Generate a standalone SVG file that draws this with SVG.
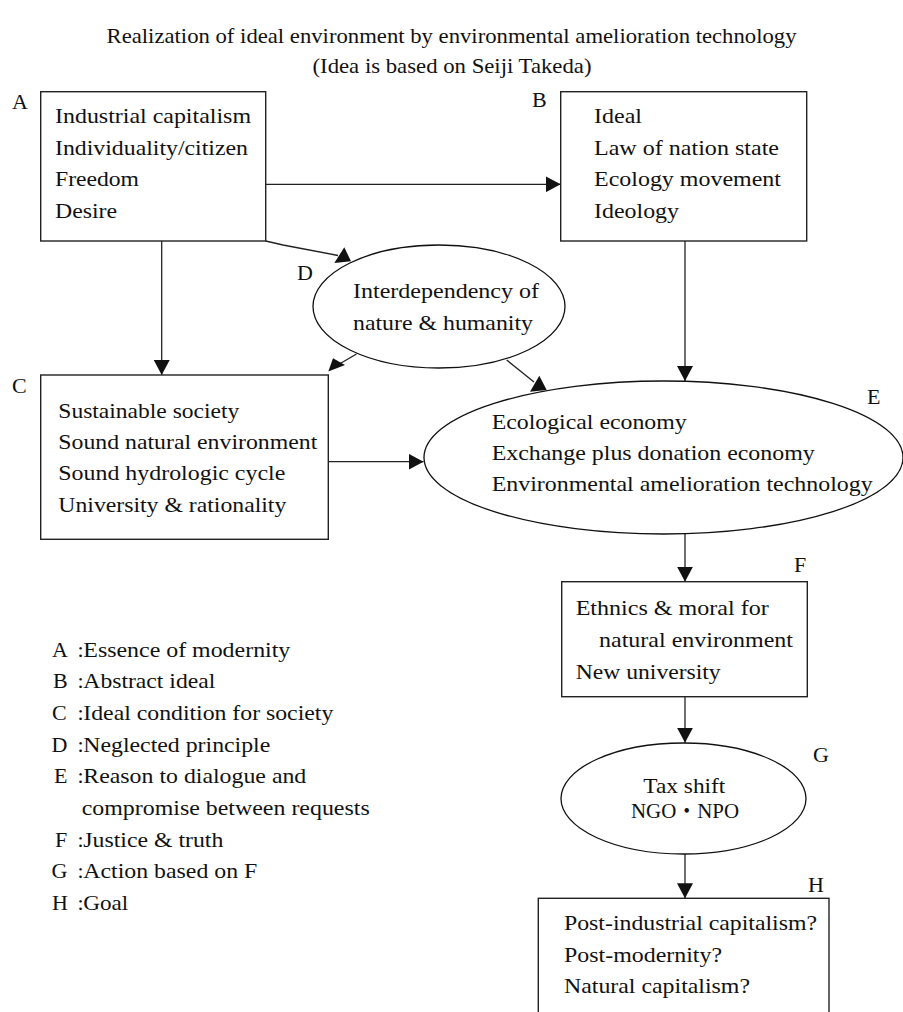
<svg xmlns="http://www.w3.org/2000/svg" width="903" height="1012" viewBox="0 0 903 1012">
<style>
text{font-family:"Liberation Serif","Times New Roman",Times,"DejaVu Serif",serif;font-size:22px;fill:#111}
.title{font-size:21px}
.cjk{font-family:"Liberation Serif","DejaVu Serif","Noto Sans CJK JP",serif}
.box{fill:#fff;stroke:#222;stroke-width:1.4}
.ell{fill:#fff;stroke:#111;stroke-width:1.3}
.ln{fill:none;stroke:#222;stroke-width:1.3}
.head{fill:#111;stroke:none}
</style>
<defs>
<marker id="ah" viewBox="0 0 15 16" refX="15" refY="8" markerWidth="15" markerHeight="16" markerUnits="userSpaceOnUse" orient="auto">
<path d="M0,0 L15,8 L0,16 z" fill="#111"/>
</marker>
</defs>
<rect x="0" y="0" width="903" height="1012" fill="#fff"/>

<g id="title">
<text class="title" x="451.5" y="43" text-anchor="middle" textLength="690" lengthAdjust="spacingAndGlyphs">Realization of ideal environment by environmental amelioration technology</text>
<text class="title" x="452" y="73" text-anchor="middle" textLength="279" lengthAdjust="spacingAndGlyphs">(Idea is based on Seiji Takeda)</text>
</g>

<g id="connectors">
<line class="ln" x1="265.7" y1="184.3" x2="560.7" y2="184.3" marker-end="url(#ah)"/>
<line class="ln" x1="161.7" y1="241" x2="161.7" y2="375" marker-end="url(#ah)"/>
<line class="ln" x1="685" y1="241" x2="685" y2="381" marker-end="url(#ah)"/>
<line class="ln" x1="328.3" y1="461.7" x2="423.5" y2="461.7" marker-end="url(#ah)"/>
<line class="ln" x1="685" y1="534" x2="685" y2="581.7" marker-end="url(#ah)"/>
<line class="ln" x1="685" y1="696.7" x2="685" y2="742.7" marker-end="url(#ah)"/>
<line class="ln" x1="685" y1="854" x2="685" y2="898.3" marker-end="url(#ah)"/>
<polyline class="ln" points="265.7,241 283,245 338,255.5"/>
<polygon class="head" points="344.3,247.3 334.3,263 351,261.3"/>
<line class="ln" x1="356.5" y1="354" x2="336" y2="366"/>
<polygon class="head" points="328.3,371.5 333,358.3 345,365"/>
<line class="ln" x1="506.7" y1="360" x2="534" y2="382"/>
<polygon class="head" points="539.3,375.7 530,391.7 546.7,390"/>
</g>

<g id="node-A">
<rect class="box" x="40.7" y="91.7" width="225" height="149.3"/>
<text x="12" y="109">A</text>
<text x="55" y="123" textLength="196" lengthAdjust="spacingAndGlyphs">Industrial capitalism</text>
<text x="55" y="155" textLength="193" lengthAdjust="spacingAndGlyphs">Individuality/citizen</text>
<text x="55" y="186" textLength="84" lengthAdjust="spacingAndGlyphs">Freedom</text>
<text x="55" y="218" textLength="62" lengthAdjust="spacingAndGlyphs">Desire</text>
</g>

<g id="node-B">
<rect class="box" x="560.7" y="91.7" width="246" height="149.3"/>
<text x="532" y="107">B</text>
<text x="594" y="123" textLength="48" lengthAdjust="spacingAndGlyphs">Ideal</text>
<text x="594" y="155" textLength="185" lengthAdjust="spacingAndGlyphs">Law of nation state</text>
<text x="594" y="186" textLength="187" lengthAdjust="spacingAndGlyphs">Ecology movement</text>
<text x="594" y="218" textLength="85" lengthAdjust="spacingAndGlyphs">Ideology</text>
</g>

<g id="node-C">
<rect class="box" x="40.7" y="375" width="287.6" height="164.3"/>
<text x="12" y="393">C</text>
<text x="58.3" y="418" textLength="181" lengthAdjust="spacingAndGlyphs">Sustainable society</text>
<text x="58.3" y="449" textLength="259" lengthAdjust="spacingAndGlyphs">Sound natural environment</text>
<text x="58.3" y="480" textLength="227" lengthAdjust="spacingAndGlyphs">Sound hydrologic cycle</text>
<text x="58.3" y="512" textLength="228" lengthAdjust="spacingAndGlyphs">University &amp; rationality</text>
</g>

<g id="node-D">
<ellipse class="ell" cx="439" cy="306.5" rx="126" ry="61.5"/>
<text x="297" y="280">D</text>
<text x="353" y="298" textLength="186" lengthAdjust="spacingAndGlyphs">Interdependency of</text>
<text x="353" y="330" textLength="180" lengthAdjust="spacingAndGlyphs">nature &amp; humanity</text>
</g>

<g id="node-E">
<ellipse class="ell" cx="663.5" cy="457.5" rx="239.5" ry="76.5"/>
<text x="867" y="404">E</text>
<text x="491.7" y="429" textLength="195" lengthAdjust="spacingAndGlyphs">Ecological economy</text>
<text x="491.7" y="460" textLength="323" lengthAdjust="spacingAndGlyphs">Exchange plus donation economy</text>
<text x="491.7" y="491" textLength="381" lengthAdjust="spacingAndGlyphs">Environmental amelioration technology</text>
</g>

<g id="node-F">
<rect class="box" x="561.7" y="581.7" width="245.6" height="115"/>
<text x="794" y="572">F</text>
<text x="575.7" y="615" textLength="193" lengthAdjust="spacingAndGlyphs">Ethnics &amp; moral for</text>
<text x="599" y="647" textLength="194" lengthAdjust="spacingAndGlyphs">natural environment</text>
<text x="575.7" y="679" textLength="145" lengthAdjust="spacingAndGlyphs">New university</text>
</g>

<g id="node-G">
<ellipse class="ell" cx="683.5" cy="798.5" rx="122.5" ry="55.5"/>
<text x="813" y="762">G</text>
<text x="684.3" y="793" text-anchor="middle" textLength="82" lengthAdjust="spacingAndGlyphs">Tax shift</text>
<text class="cjk" x="685" y="818" text-anchor="middle" textLength="108" lengthAdjust="spacingAndGlyphs">NGO・NPO</text>
</g>

<g id="node-H">
<rect class="box" x="538.3" y="898.3" width="290.7" height="130"/>
<text x="808" y="892">H</text>
<text x="564" y="930" textLength="253" lengthAdjust="spacingAndGlyphs">Post-industrial capitalism?</text>
<text x="564" y="962" textLength="158" lengthAdjust="spacingAndGlyphs">Post-modernity?</text>
<text x="564" y="993" textLength="186" lengthAdjust="spacingAndGlyphs">Natural capitalism?</text>
</g>

<g id="legend">
<text x="52" y="657">A</text><text x="77.5" y="657">:</text><text x="83.3" y="657" textLength="207" lengthAdjust="spacingAndGlyphs">Essence of modernity</text>
<text x="53" y="688">B</text><text x="77.5" y="688">:</text><text x="83.3" y="688" textLength="132" lengthAdjust="spacingAndGlyphs">Abstract ideal</text>
<text x="52" y="720">C</text><text x="77.5" y="720">:</text><text x="83.3" y="720" textLength="250" lengthAdjust="spacingAndGlyphs">Ideal condition for society</text>
<text x="51.5" y="752">D</text><text x="77.5" y="752">:</text><text x="83.3" y="752" textLength="187" lengthAdjust="spacingAndGlyphs">Neglected principle</text>
<text x="54" y="783">E</text><text x="77.5" y="783">:</text><text x="83.3" y="783" textLength="223" lengthAdjust="spacingAndGlyphs">Reason to dialogue and</text>
<text x="81.7" y="815" textLength="288" lengthAdjust="spacingAndGlyphs">compromise between requests</text>
<text x="55" y="847">F</text><text x="77.5" y="847">:</text><text x="83.3" y="847" textLength="140" lengthAdjust="spacingAndGlyphs">Justice &amp; truth</text>
<text x="51.5" y="878">G</text><text x="77.5" y="878">:</text><text x="83.3" y="878" textLength="174" lengthAdjust="spacingAndGlyphs">Action based on F</text>
<text x="52" y="910">H</text><text x="77.5" y="910">:</text><text x="83.3" y="910" textLength="45" lengthAdjust="spacingAndGlyphs">Goal</text>
</g>
</svg>
